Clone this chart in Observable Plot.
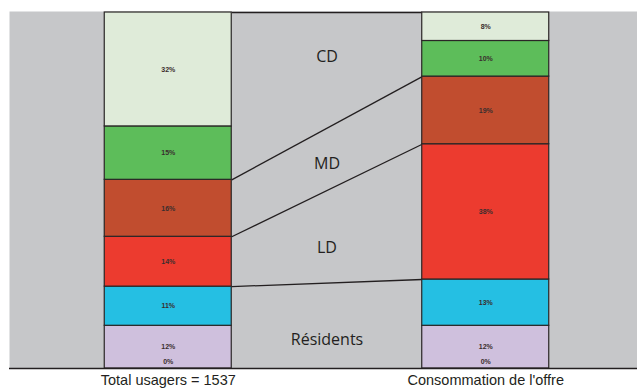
<!DOCTYPE html>
<html>
<head>
<meta charset="utf-8">
<script src="https://cdn.jsdelivr.net/npm/d3@7"></script>
<script src="https://cdn.jsdelivr.net/npm/@observablehq/plot@0.6"></script>
<style>
  html, body { margin: 0; padding: 0; background: #ffffff; }
  #chart svg { display: block; }
</style>
</head>
<body>
<div id="chart"></div>
<script>
// ---- data ----
const columns = ["Total usagers = 1537", "Consommation de l'offre"];
const segments = ["zéro", "violet", "cyan", "LD", "MD", "vert", "vert clair"];
const usagers = [0, 12, 11, 14, 16, 15, 32];
const offre = [0, 12, 13, 38, 19, 10, 8];
const colors = ["#cfc0dd", "#cfc0dd", "#25bfe3", "#ec3b2f", "#c14d2f", "#5dbd5a", "#dfebd9"];
const groups = ["CD", "MD", "LD", "Résidents"];
const groupLabelY = [87.5, 57.5, 34, 8];
const connectors = ["cyan", "LD", "MD", "vert clair"];

// ---- build table ----
const series = [usagers, offre];
const halfWidth = 0.2;
const rows = [];
columns.forEach((col, i) => {
  let acc = 0;
  segments.forEach((s, j) => {
    const v = series[i][j];
    rows.push({col: i, seg: s, value: v, y1: acc, y2: acc + v, color: colors[j]});
    acc += v;
  });
});
const segTop = (i, s) => rows.find(r => r.col === i && r.seg === s).y2;
const links = connectors.map(s => ({x1: 0 + halfWidth, x2: 1 - halfWidth, y1: segTop(0, s), y2: segTop(1, s)}));

const chart = Plot.plot({
  width: 637,
  height: 389,
  marginLeft: 9,
  marginRight: 0,
  marginTop: 12,
  marginBottom: 21,
  x: {type: "linear", domain: [-0.5, 1.478]},
  y: {domain: [0, 100], axis: null},
  style: {background: "#ffffff"},
  marks: [
    Plot.frame({fill: "#c6c7c9", stroke: null, insetTop: -1}),
    Plot.link(links, {x1: "x1", x2: "x2", y1: "y1", y2: "y2", stroke: "#231f20", strokeWidth: 1.3}),
    Plot.rect(rows.filter(d => d.value > 0), {
      x1: d => d.col - halfWidth, x2: d => d.col + halfWidth,
      y1: "y1", y2: "y2", fill: "color", stroke: "#2a2626", strokeWidth: 1.2
    }),
    Plot.text(rows.filter(d => d.value > 0), {
      x: "col", y: d => (d.y1 + d.y2) / 2, text: d => d.value + "%",
      fontSize: 7, fontWeight: "bold", fontFamily: "Liberation Sans, Arial, sans-serif", fill: "#3a2e2e"
    }),
    Plot.text(rows.filter(d => d.value === 0), {
      x: "col", y: "y1", dy: -7, text: d => d.value + "%",
      fontSize: 7, fontWeight: "bold", fontFamily: "Liberation Sans, Arial, sans-serif", fill: "#3a2e2e"
    }),
    Plot.text(groups, {
      x: () => 0.5, y: (d, i) => groupLabelY[i], text: d => d,
      fontSize: 16, fontFamily: "Open Sans, Noto Sans, sans-serif", fill: "#231f20"
    }),
    Plot.ruleY([0], {stroke: "#231f20", strokeWidth: 1.5}),
    Plot.axisX({
      ticks: [0, 1], tickFormat: i => columns[i], tickSize: 0, tickPadding: 6,
      fontSize: 14.5, fontFamily: "Liberation Sans, Arial, sans-serif", fill: "#231f20", label: null
    })
  ]
});
document.getElementById("chart").appendChild(chart);
</script>
</body>
</html>
